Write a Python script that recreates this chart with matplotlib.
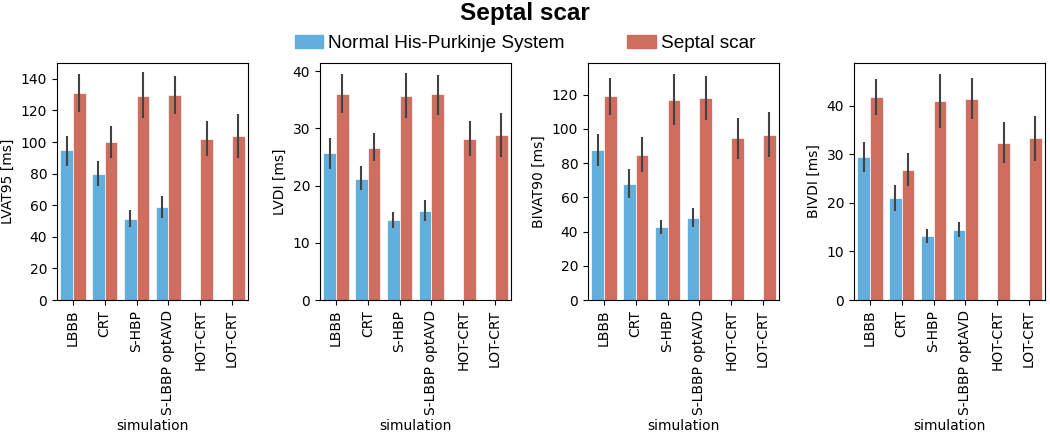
import numpy as np
import matplotlib.pyplot as plt

plt.rcParams['font.family'] = 'DejaVu Sans'

simulations = ['LBBB', 'CRT', 'S-HBP', 'S-LBBP optAVD', 'HOT-CRT', 'LOT-CRT']
metrics = ['LVAT95 [ms]', 'LVDI [ms]', 'BIVAT90 [ms]', 'BIVDI [ms]']

# Normal His-Purkinje System (only first 4 simulations)
normal_mean = [[95, 80, 51, 59],
               [25.6, 21.2, 13.9, 15.6],
               [87.5, 68, 42.5, 48],
               [29.4, 21.0, 13.2, 14.5]]
normal_lo = [[85, 72, 46, 52],
             [22.8, 19.2, 12.6, 13.8],
             [78.5, 59.5, 38.5, 42.5],
             [26.3, 18.3, 11.8, 12.9]]
normal_hi = [[104, 88, 57, 66],
             [28.3, 23.4, 15.4, 17.4],
             [97, 76.5, 46.5, 53.5],
             [32.5, 23.7, 14.6, 16.1]]

# Septal scar
scar_mean = [[131, 100, 129, 130, 102, 104],
             [36.0, 26.6, 35.7, 35.9, 28.2, 28.8],
             [119, 85, 117, 118, 94.5, 96.5],
             [41.8, 26.7, 41.0, 41.4, 32.4, 33.3]]
scar_lo = [[119, 90, 115, 118, 91, 90],
           [32.6, 24.2, 31.8, 32.4, 25.2, 24.9],
           [108, 75, 102, 105, 82.5, 83.5],
           [38.0, 23.4, 35.5, 37.2, 28.2, 28.7]]
scar_hi = [[143, 110, 144, 142, 113, 118],
           [39.4, 29.2, 39.6, 39.3, 31.3, 32.7],
           [130, 95, 132, 131, 106.5, 110],
           [45.6, 30.2, 46.6, 45.8, 36.6, 37.8]]

ylims = [150, 41.4, 138.5, 48.8]
yticks = [np.arange(0, 141, 20), np.arange(0, 41, 10),
          np.arange(0, 121, 20), np.arange(0, 41, 10)]

blue = '#62AEDD'
red = '#CD6E5F'
err_c = '#424242'
fs = 10

fig = plt.figure(figsize=(10.5, 4.33), dpi=100)
lefts = [57, 320, 588, 854]
w = 191
for k in range(4):
    ax = fig.add_axes([lefts[k] / 1050, 133 / 433, w / 1050, 237 / 433])
    x = np.arange(len(simulations))
    nm = np.array(normal_mean[k])
    sm = np.array(scar_mean[k])
    xn = x[:len(nm)] - 0.2
    xs = x + 0.2
    ax.bar(xn, nm, width=0.4, color=blue, edgecolor='white', linewidth=0.5)
    ax.bar(xs, sm, width=0.4, color=red, edgecolor='white', linewidth=0.5)
    ax.vlines(xn, normal_lo[k], normal_hi[k], color=err_c, lw=1.5)
    ax.vlines(xs, scar_lo[k], scar_hi[k], color=err_c, lw=1.5)
    ax.set_xlim(-0.5, 5.5)
    ax.set_ylim(0, ylims[k])
    ax.set_yticks(yticks[k])
    ax.set_xticks(x)
    ax.set_xticklabels(simulations, rotation=90, fontsize=fs)
    ax.tick_params(axis='y', labelsize=fs)
    ax.set_ylabel(metrics[k], fontsize=fs)
    ax.set_xlabel('simulation', fontsize=fs, labelpad=3)

fig.suptitle('Septal scar', fontsize=17.5, fontweight='bold',
             family='Liberation Sans', y=0.995)
handles = [plt.Rectangle((0, 0), 1, 1, color=blue),
           plt.Rectangle((0, 0), 1, 1, color=red)]
fig.legend(handles, ['Normal His-Purkinje System', 'Septal scar'],
           loc='center', bbox_to_anchor=(0.5, 0.9), ncol=2, frameon=False,
           prop={'family': 'Liberation Sans', 'size': 13.7},
           handlelength=1.5, handletextpad=0.25, columnspacing=3.3)

fig.savefig('out.png', dpi=100)
